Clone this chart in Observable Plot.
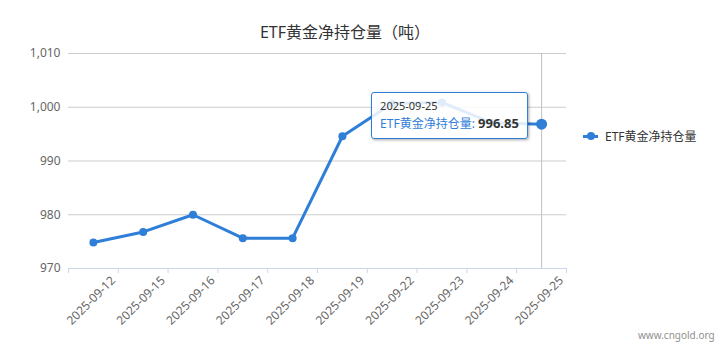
<!DOCTYPE html>
<html><head><meta charset="utf-8">
<script src="https://cdn.jsdelivr.net/npm/d3@7"></script>
<script src="https://cdn.jsdelivr.net/npm/@observablehq/plot@0.6"></script>
<style>
body{margin:0;background:#fff;font-family:"Noto Sans","Noto Sans CJK SC",sans-serif;}
#wrap{position:relative;width:727px;height:360px;overflow:hidden;}
#title{position:absolute;left:0;width:690px;top:20px;text-align:center;font-size:16px;color:#333;line-height:24px;}
#legend{position:absolute;left:583px;top:127px;font-size:12px;color:#333;display:flex;align-items:center;}
#legend .sym{position:relative;width:15px;height:3px;background:#2f7ed8;margin-right:7px;}
#legend .sym::after{content:"";position:absolute;left:4px;top:-3px;width:8px;height:8px;border-radius:50%;background:#2f7ed8;}
#tip{position:absolute;background:rgba(255,255,255,0.85);border:1px solid #2f7ed8;border-radius:3px;box-shadow:1px 1px 3px rgba(0,0,0,0.35);padding:5px 8px;white-space:nowrap;}
#tip .d{font-size:11px;color:#333;line-height:16px;}
#tip .s{font-size:12px;color:#2f7ed8;line-height:18px;}
#tip .s b{color:#333;font-size:13px;}
#wm{position:absolute;left:638px;top:328px;font-size:10px;color:#909090;}
</style></head>
<body><div id="wrap"><div id="title">ETF黄金净持仓量（吨）</div></div>
<script>
const dates = ["2025-09-12","2025-09-15","2025-09-16","2025-09-17","2025-09-18","2025-09-19","2025-09-22","2025-09-23","2025-09-24","2025-09-25"];
const values = [974.85, 976.8, 980.0, 975.65, 975.65, 994.6, 1000.7, 1000.9, 997.1, 996.85];
const yTicks = [970, 980, 990, 1000, 1010];
const seriesName = "ETF黄金净持仓量";
const color = "#2f7ed8";

const data = dates.map((d, i) => ({i, pos: i + 0.5, date: d, value: values[i]}));
const last = data[data.length - 1];

const chart = Plot.plot({
  width: 727, height: 360,
  marginLeft: 68, marginRight: 161, marginTop: 53, marginBottom: 92,
  style: {fontFamily: '"Noto Sans","Noto Sans CJK SC",sans-serif', fontSize: "12px", color: "#666"},
  x: {type: "linear", domain: [0, dates.length], axis: null},
  y: {domain: [970, 1010], axis: null},
  marks: [
    Plot.ruleY(yTicks.slice(1), {stroke: "#cccccc", strokeWidth: 1}),
    Plot.text(yTicks, {x: 0, y: d => d, text: d => d3.format(",")(d), textAnchor: "end", dx: -8, fill: "#666", fontSize: 12}),
    Plot.ruleY([970], {stroke: "#ccd6eb", strokeWidth: 1}),
    Plot.axisX({ticks: d3.range(0, dates.length + 1), tickFormat: () => "", tickSize: 5, stroke: "#ccd6eb", strokeOpacity: 1, anchor: "bottom", label: null}),
    Plot.text(dates, {x: (d, i) => i + 1, y: 970, text: d => d, rotate: -45, textAnchor: "end", dx: -5, dy: 10, fill: "#666", fontSize: 12}),
    Plot.ruleX([last.pos], {y1: 970, y2: 1010, stroke: "#c0c0c0", strokeWidth: 1}),
    Plot.line(data, {x: "pos", y: "value", stroke: color, strokeWidth: 3}),
    Plot.dot(data.slice(0, -1), {x: "pos", y: "value", r: 4, fill: color}),
    Plot.dot([last], {x: "pos", y: "value", r: 5.5, fill: color})
  ]
});
const wrap = document.getElementById("wrap");
chart.style.position = "absolute"; chart.style.left = "0"; chart.style.top = "0";
wrap.appendChild(chart);

const sx = chart.scale("x"), sy = chart.scale("y");

const legend = document.createElement("div");
legend.id = "legend";
legend.innerHTML = `<span class="sym"></span><span>${seriesName}</span>`;
wrap.appendChild(legend);

const tip = document.createElement("div");
tip.id = "tip";
tip.innerHTML = `<div class="d">${last.date}</div><div class="s">${seriesName}: <b>${last.value.toFixed(2)}</b></div>`;
wrap.appendChild(tip);
const px = sx.apply(last.pos), py = sy.apply(last.value);
tip.style.left = (px - 170) + "px";
tip.style.top = (py - 32) + "px";

const wm = document.createElement("div");
wm.id = "wm"; wm.textContent = "www.cngold.org";
wrap.appendChild(wm);
</script></body></html>
